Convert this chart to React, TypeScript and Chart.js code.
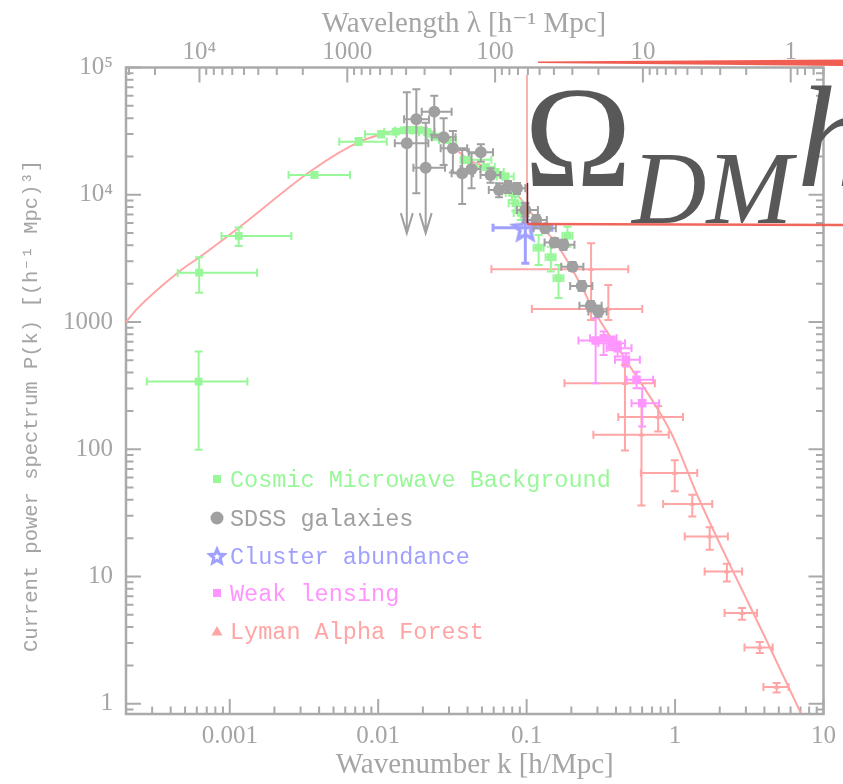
import React, { useEffect, useRef } from 'react';
import { Chart, registerables } from 'chart.js';

Chart.register(...registerables);

// Axis ranges: wavenumber k [h/Mpc] and power P(k) [(h^-1 Mpc)^3]
const K_RANGE = [2.0e-4, 10];
const P_RANGE = [0.83, 1e5];

const X_TICKS = [0.001, 0.01, 0.1, 1, 10];
const X_TICK_LABELS = ['0.001', '0.01', '0.1', '1', '10'];
const Y_TICKS = [1, 10, 100, 1000, 1e4, 1e5];
const Y_TICK_LABELS = ['1', '10', '100', '1000', '10⁴', '10⁵'];
const LAMBDA_TICKS = [1, 10, 100, 1000, 1e4];
const LAMBDA_TICK_LABELS = ['1', '10', '100', '1000', '10⁴'];

// Linear-theory model spectrum
const CURVE_K = [2.0e-4, 2.41e-4, 4.62e-4, 6.29e-4, 1.167e-3, 3.6e-3, 7.45e-3, 0.01186, 0.0165, 0.02, 0.0241, 0.03, 0.0408, 0.0649, 0.0925, 0.1204, 0.1566, 0.235, 0.2742, 0.484, 0.94, 1.427, 2.376, 4.02, 7.01];
const CURVE_P = [1000, 1291, 2518, 3245, 5585, 15660, 26000, 31100, 33900, 33600, 30300, 25300, 18800, 14800, 9100, 6000, 4200, 1900, 1320, 469, 134.6, 42.3, 11.9, 3.36, 0.85];

// Cosmic Microwave Background
const CMB_K = [6.17e-4, 6.22e-4, 1.149e-3, 3.72e-3, 7.38e-3, 0.01047, 0.01315, 0.01494, 0.01699, 0.01884, 0.02142, 0.02439, 0.02904, 0.03974, 0.0531, 0.0616, 0.0719, 0.0797, 0.084, 0.0912, 0.1204, 0.1456, 0.164, 0.1884];
const CMB_P = [340, 2440, 4745, 14300, 26100, 29900, 31300, 32000, 32300, 32000, 31000, 28600, 26900, 18800, 16500, 15100, 13900, 10330, 8580, 7190, 3840, 3230, 2210, 4770];
const CMB_K_LO = [2.76e-4, 4.46e-4, 8.8e-4, 2.49e-3, 5.47e-3, 8.14e-3, 0.01097, 0.013, 0.015, 0.01665, 0.01884, 0.02133, 0.02567, 0.03589, 0.04617, 0.0539, 0.0629, 0.0723, 0.0757, 0.0818, 0.1114, 0.1342, 0.1518, 0.1744];
const CMB_K_HI = [1.315e-3, 1.525e-3, 2.6e-3, 6.46e-3, 0.01143, 0.01315, 0.01566, 0.01718, 0.01914, 0.02133, 0.02414, 0.02773, 0.03337, 0.0579, 0.061, 0.0701, 0.0818, 0.0884, 0.0925, 0.1016, 0.13, 0.1566, 0.177, 0.2037];
const CMB_P_LO = [99, 1700, 3960, 13600, 24600, 28200, 30000, 30600, 30900, 30600, 29400, 27200, 25600, 17800, 15700, 14300, 13200, 9100, 7460, 6340, 2810, 2490, 1540, 3910];
const CMB_P_HI = [585, 3230, 5520, 15100, 27900, 31700, 32900, 33500, 33800, 33800, 32900, 30000, 28200, 19800, 17300, 15900, 14700, 11740, 9600, 8170, 4830, 3910, 2810, 5610];

// SDSS galaxies
const SDSS_K = [0.01559, 0.01807, 0.02089, 0.02387, 0.0276, 0.03186, 0.04914, 0.0368, 0.04254, 0.0571, 0.0652, 0.0749, 0.0861, 0.098, 0.1162, 0.1335, 0.1542, 0.177, 0.2037, 0.235, 0.2702, 0.3043];
const SDSS_P = [25400, 39200, 16300, 45000, 28300, 23200, 21600, 14760, 15960, 14300, 10910, 11590, 11250, 7600, 6340, 5460, 4210, 4040, 2720, 1920, 1340, 1210];
const SDSS_K_LO = [0.01294, 0.01494, 0.01726, 0.01965, 0.02293, 0.02635, 0.04083, 0.03124, 0.03589, 0.0489, 0.0556, 0.0626, 0.0757, 0.0861, 0.0954, 0.1114, 0.1321, 0.1479, 0.171, 0.1965, 0.2268, 0.2607];
const SDSS_K_HI = [0.02177, 0.02198, 0.02818, 0.03124, 0.03322, 0.03974, 0.0594, 0.04361, 0.0489, 0.0666, 0.0757, 0.0884, 0.098, 0.1191, 0.1368, 0.1573, 0.1818, 0.21, 0.2413, 0.2773, 0.3201, 0.3459];
const SDSS_P_LO = [4990, 10280, 4990, 29500, 17100, 14930, 18200, 8470, 11250, 12450, 9550, 10330, 10140, 6730, 5790, 5010, 3890, 3680, 2520, 1750, 1220, 1100];
const SDSS_P_HI = [63800, 67400, 36800, 60000, 39900, 31700, 24900, 22500, 21200, 16150, 12310, 12830, 12390, 8580, 6940, 5900, 4580, 4420, 2960, 2100, 1465, 1340];
// points whose lower bar ends in an upper-limit arrow
const SDSS_LIMITS = [0, 2];

// Cluster abundance
const CLUSTER_K = [0.098];
const CLUSTER_P = [5500];
const CLUSTER_K_LO = [0.0594];
const CLUSTER_K_HI = [0.1479];
const CLUSTER_P_LO = [2900];
const CLUSTER_P_HI = [8580];

// Weak lensing
const WL_K = [0.2917, 0.3302, 0.3737, 0.41, 0.4667, 0.5499, 0.6006];
const WL_P = [714, 746, 681, 622, 504, 351, 230];
const WL_K_LO = [0.2234, 0.2677, 0.3043, 0.3459, 0.3938, 0.4712, 0.509];
const WL_K_HI = [0.3837, 0.4037, 0.4596, 0.509, 0.5795, 0.7117, 0.781];
const WL_P_LO = [330, 551, 600, 535, 446, 302, 151];
const WL_P_HI = [1076, 841, 770, 702, 568, 407, 302];

// Lyman Alpha Forest
const LYA_K = [0.2718, 0.3551, 0.4596, 0.769, 0.594, 0.995, 1.306, 1.71, 2.234, 2.829, 3.72, 4.836];
const LYA_P = [2600, 1262, 330, 179, 130, 64.9, 37.1, 20.6, 10.94, 5.16, 2.77, 1.352];
const LYA_K_LO = [0.0579, 0.1085, 0.1799, 0.4144, 0.2816, 0.5884, 0.831, 1.162, 1.582, 2.156, 2.937, 3.938];
const LYA_K_HI = [0.4837, 0.6006, 0.731, 1.132, 0.907, 1.411, 1.78, 2.269, 2.829, 3.567, 4.548, 5.823];
const LYA_P_LO = [1038, 1038, 97.7, 138, 36.1, 46.7, 29.6, 16.2, 9.14, 4.57, 2.5, 1.227];
const LYA_P_HI = [4160, 1955, 460, 219, 244, 81.8, 43.8, 24.4, 12.6, 5.65, 3.05, 1.455];

const GREEN = 'rgb(152,247,152)';
const GREY = 'rgb(160,160,160)';
const BLUE = 'rgb(160,160,255)';
const PINK = 'rgb(255,150,255)';
const SALMON = 'rgb(255,165,165)';
const AXIS = 'rgb(170,170,170)';
const TEXT = 'rgb(165,165,165)';

const SERIF = '"Liberation Serif", "DejaVu Serif", serif';
const MONO = '"Liberation Mono", "DejaVu Sans Mono", monospace';

function starPath(ctx: CanvasRenderingContext2D, cx: number, cy: number, outer: number) {
  const inner = outer * 0.45;
  ctx.beginPath();
  for (let i = 0; i < 10; i++) {
    const r = i % 2 === 0 ? outer : inner;
    const a = -Math.PI / 2 + (i * Math.PI) / 5;
    const px = cx + r * Math.cos(a);
    const py = cy + r * Math.sin(a);
    if (i === 0) ctx.moveTo(px, py);
    else ctx.lineTo(px, py);
  }
  ctx.closePath();
}

function makeStar(outer: number, color: string, lineWidth: number) {
  const size = Math.ceil(outer * 2 + lineWidth * 2 + 4);
  const c = document.createElement('canvas');
  c.width = size;
  c.height = size;
  const ctx = c.getContext('2d')!;
  starPath(ctx, size / 2, size / 2 + outer * 0.1, outer);
  ctx.lineJoin = 'miter';
  ctx.strokeStyle = color;
  ctx.lineWidth = lineWidth;
  ctx.stroke();
  return c;
}

function series(k: number[], p: number[]) {
  return k.map((v, i) => ({ x: v, y: p[i] }));
}

// Error bars with end caps, drawn just below each dataset's markers
const errorBarPlugin = {
  id: 'errorBars',
  beforeDatasetDraw(chart: any, args: any) {
    const ds = chart.data.datasets[args.index];
    const eb = ds.errorBars;
    if (!eb) return;
    const { ctx, chartArea: a } = chart;
    const xs = chart.scales.x;
    const ys = chart.scales.y;
    ctx.save();
    ctx.beginPath();
    ctx.rect(a.left, a.top, a.right - a.left, a.bottom - a.top);
    ctx.clip();
    ctx.strokeStyle = ds.errorColor;
    ctx.lineWidth = ds.errorWidth;
    const c = ds.capSize;
    ds.data.forEach((pt: any, i: number) => {
      const px = xs.getPixelForValue(pt.x);
      const py = ys.getPixelForValue(pt.y);
      const x0 = xs.getPixelForValue(eb.kLo[i]);
      const x1 = xs.getPixelForValue(eb.kHi[i]);
      const y0 = ys.getPixelForValue(eb.pHi[i]);
      const y1 = ys.getPixelForValue(eb.pLo[i]);
      ctx.beginPath();
      ctx.moveTo(x0, py); ctx.lineTo(x1, py);
      ctx.moveTo(x0, py - c); ctx.lineTo(x0, py + c);
      ctx.moveTo(x1, py - c); ctx.lineTo(x1, py + c);
      ctx.moveTo(px, y0); ctx.lineTo(px, y1);
      ctx.moveTo(px - c, y0); ctx.lineTo(px + c, y0);
      const isLimit = eb.limits && eb.limits.includes(i);
      if (isLimit) {
        ctx.moveTo(px - 6, y1 - 20); ctx.lineTo(px, y1); ctx.lineTo(px + 6, y1 - 20);
      } else {
        ctx.moveTo(px - c, y1); ctx.lineTo(px + c, y1);
      }
      ctx.stroke();
    });
    ctx.restore();
  },
};

// Box frame with inward log tick marks on all four sides
const framePlugin = {
  id: 'frame',
  beforeDatasetsDraw(chart: any) {
    const { ctx, chartArea: a } = chart;
    const xs = chart.scales.x;
    const xt = chart.scales.xTop;
    const ys = chart.scales.y;
    const each = (min: number, max: number, cb: (v: number, major: boolean) => void) => {
      for (let e = Math.floor(Math.log10(min)); e <= Math.ceil(Math.log10(max)); e++) {
        for (let m = 1; m <= 9; m++) {
          const v = m * Math.pow(10, e);
          if (v >= min * 0.9999 && v <= max * 1.0001) cb(v, m === 1);
        }
      }
    };
    ctx.save();
    ctx.strokeStyle = AXIS;
    ctx.lineWidth = 2;
    ctx.beginPath();
    each(xs.min, xs.max, (v, major) => {
      const px = xs.getPixelForValue(v);
      ctx.moveTo(px, a.bottom); ctx.lineTo(px, a.bottom - (major ? 15 : 7.5));
    });
    each(xt.min, xt.max, (v, major) => {
      const px = xt.getPixelForValue(v);
      ctx.moveTo(px, a.top); ctx.lineTo(px, a.top + (major ? 15 : 7.5));
    });
    each(ys.min, ys.max, (v, major) => {
      const py = ys.getPixelForValue(v);
      const len = major ? 15 : 7.5;
      ctx.moveTo(a.left, py); ctx.lineTo(a.left + len, py);
      ctx.moveTo(a.right, py); ctx.lineTo(a.right - len, py);
    });
    ctx.stroke();
    ctx.lineWidth = 2.5;
    ctx.strokeRect(a.left, a.top, a.right - a.left, a.bottom - a.top);
    ctx.restore();
  },
};

// Axis titles and the in-plot legend
const labelsPlugin = {
  id: 'labels',
  afterDatasetsDraw(chart: any) {
    const { ctx, chartArea: a } = chart;
    ctx.save();
    ctx.fillStyle = TEXT;
    ctx.textAlign = 'center';
    ctx.textBaseline = 'alphabetic';
    ctx.font = `29px ${SERIF}`;
    ctx.fillText('Wavenumber k [h/Mpc]', (a.left + a.right) / 2, 773);
    ctx.fillText('Wavelength λ [h⁻¹ Mpc]', 464, 32);
    ctx.save();
    ctx.translate(37, 406);
    ctx.rotate(-Math.PI / 2);
    ctx.font = `20.5px ${MONO}`;
    ctx.fillText('Current power spectrum P(k) [(h⁻¹ Mpc)³]', 0, 0);
    ctx.restore();

    const rows = [479, 518, 556, 593, 631];
    const order = [1, 2, 3, 4, 5];
    ctx.textAlign = 'left';
    ctx.font = `23.5px ${MONO}`;
    order.forEach((di, r) => {
      const ds = chart.data.datasets[di];
      const y = rows[r];
      const mx = 217;
      ctx.fillStyle = ds.backgroundColor;
      ctx.strokeStyle = ds.errorColor;
      if (ds.legendMarker === 'rect') {
        ctx.fillRect(mx - 4, y - 4, 8, 8);
      } else if (ds.legendMarker === 'circle') {
        ctx.beginPath(); ctx.arc(mx, y, 6.5, 0, Math.PI * 2); ctx.fill();
      } else if (ds.legendMarker === 'star') {
        starPath(ctx, mx, y + 0.8, 7.5);
        ctx.lineWidth = 3; ctx.lineJoin = 'miter';
        ctx.stroke();
      } else if (ds.legendMarker === 'triangle') {
        ctx.beginPath();
        ctx.moveTo(mx, y - 5); ctx.lineTo(mx + 5.5, y + 4.5); ctx.lineTo(mx - 5.5, y + 4.5);
        ctx.closePath(); ctx.fill();
      }
      ctx.fillStyle = ds.errorColor;
      ctx.fillText(ds.label, 230, y + 7.5);
    });
    ctx.restore();
  },
};

// Annotation box with the Ω_DM h label, drawn over the upper-right corner
const omegaPlugin = {
  id: 'omega',
  afterDraw(chart: any) {
    const { ctx } = chart;
    ctx.save();
    ctx.fillStyle = 'rgb(88,88,88)';
    ctx.textBaseline = 'alphabetic';
    ctx.textAlign = 'left';
    ctx.font = `145px ${SERIF}`;
    ctx.fillText('Ω', 524, 186);
    ctx.font = `italic 103px ${SERIF}`;
    ctx.fillText('DM', 632, 223);
    ctx.font = `italic 145px ${SERIF}`;
    ctx.fillText('h', 797, 186);

    ctx.fillStyle = 'rgba(238,85,72,0.95)';
    ctx.beginPath();
    ctx.moveTo(538, 61.5); ctx.lineTo(843, 59.5); ctx.lineTo(843, 66); ctx.lineTo(538, 63);
    ctx.closePath(); ctx.fill();
    ctx.strokeStyle = 'rgba(238,85,72,0.9)';
    ctx.lineWidth = 1;
    ctx.beginPath(); ctx.moveTo(527, 75); ctx.lineTo(527, 224); ctx.stroke();
    ctx.lineWidth = 2.5;
    ctx.beginPath(); ctx.moveTo(527, 224); ctx.lineTo(843, 225); ctx.stroke();
    ctx.strokeStyle = 'rgba(70,25,25,0.85)';
    ctx.lineWidth = 1.5;
    ctx.beginPath(); ctx.moveTo(527.5, 183); ctx.lineTo(527.5, 223); ctx.stroke();
    ctx.restore();
  },
};

export default function App() {
  const ref = useRef<HTMLCanvasElement>(null);

  useEffect(() => {
    const canvas = ref.current;
    if (!canvas) return;
    const twoPi = 2 * Math.PI;
    const chart = new Chart(canvas, {
      type: 'scatter',
      data: {
        datasets: [
          {
            type: 'line',
            label: 'Model',
            data: series(CURVE_K, CURVE_P),
            borderColor: SALMON,
            borderWidth: 2,
            pointRadius: 0,
            cubicInterpolationMode: 'monotone',
            order: 6,
          },
          {
            label: 'Cosmic Microwave Background',
            data: series(CMB_K, CMB_P),
            backgroundColor: GREEN,
            borderWidth: 0,
            pointStyle: 'rect',
            pointRadius: 5.5,
            errorColor: GREEN,
            errorWidth: 2,
            capSize: 4,
            legendMarker: 'rect',
            errorBars: { kLo: CMB_K_LO, kHi: CMB_K_HI, pLo: CMB_P_LO, pHi: CMB_P_HI },
            order: 3,
          },
          {
            label: 'SDSS galaxies',
            data: series(SDSS_K, SDSS_P),
            backgroundColor: GREY,
            borderWidth: 0,
            pointStyle: 'circle',
            pointRadius: 6,
            errorColor: GREY,
            errorWidth: 2,
            capSize: 4,
            legendMarker: 'circle',
            errorBars: { kLo: SDSS_K_LO, kHi: SDSS_K_HI, pLo: SDSS_P_LO, pHi: SDSS_P_HI, limits: SDSS_LIMITS },
            order: 1,
          },
          {
            label: 'Cluster abundance',
            data: series(CLUSTER_K, CLUSTER_P),
            backgroundColor: BLUE,
            borderWidth: 0,
            pointStyle: makeStar(12.5, BLUE, 3.5),
            pointRadius: 12,
            errorColor: BLUE,
            errorWidth: 3,
            capSize: 4,
            legendMarker: 'star',
            errorBars: { kLo: CLUSTER_K_LO, kHi: CLUSTER_K_HI, pLo: CLUSTER_P_LO, pHi: CLUSTER_P_HI },
            order: 2,
          },
          {
            label: 'Weak lensing',
            data: series(WL_K, WL_P),
            backgroundColor: PINK,
            borderWidth: 0,
            pointStyle: 'rect',
            pointRadius: 6,
            errorColor: PINK,
            errorWidth: 2,
            capSize: 4,
            legendMarker: 'rect',
            errorBars: { kLo: WL_K_LO, kHi: WL_K_HI, pLo: WL_P_LO, pHi: WL_P_HI },
            order: 4,
          },
          {
            label: 'Lyman Alpha Forest',
            data: series(LYA_K, LYA_P),
            backgroundColor: SALMON,
            borderWidth: 0,
            pointStyle: 'triangle',
            pointRadius: 3.5,
            errorColor: SALMON,
            errorWidth: 2,
            capSize: 4,
            legendMarker: 'triangle',
            errorBars: { kLo: LYA_K_LO, kHi: LYA_K_HI, pLo: LYA_P_LO, pHi: LYA_P_HI },
            order: 5,
          },
        ] as any,
      },
      options: {
        animation: false,
        responsive: false,
        events: [],
        layout: { padding: { left: 0, right: 17, top: 0, bottom: 0 } },
        plugins: { legend: { display: false }, tooltip: { enabled: false } },
        scales: {
          x: {
            type: 'logarithmic',
            position: 'bottom',
            min: K_RANGE[0],
            max: K_RANGE[1],
            grid: { display: false, drawTicks: false },
            border: { display: false },
            afterBuildTicks: (s: any) => { s.ticks = X_TICKS.map((v) => ({ value: v })); },
            afterFit: (s: any) => { s.height = 70; },
            ticks: {
              autoSkip: false,
              maxRotation: 0,
              padding: 7,
              color: TEXT,
              font: { family: SERIF, size: 25 },
              callback: (_v: any, i: number) => X_TICK_LABELS[i],
            },
          },
          xTop: {
            type: 'logarithmic',
            position: 'top',
            reverse: true,
            min: twoPi / K_RANGE[1],
            max: twoPi / K_RANGE[0],
            grid: { display: false, drawTicks: false },
            border: { display: false },
            afterBuildTicks: (s: any) => { s.ticks = LAMBDA_TICKS.map((v) => ({ value: v })); },
            afterFit: (s: any) => { s.height = 67.5; },
            ticks: {
              autoSkip: false,
              maxRotation: 0,
              padding: 0,
              color: TEXT,
              font: { family: SERIF, size: 25 },
              callback: (_v: any, i: number) => LAMBDA_TICK_LABELS[i],
            },
          },
          y: {
            type: 'logarithmic',
            position: 'left',
            min: P_RANGE[0],
            max: P_RANGE[1],
            grid: { display: false, drawTicks: false },
            border: { display: false },
            afterBuildTicks: (s: any) => { s.ticks = Y_TICKS.map((v) => ({ value: v })); },
            afterFit: (s: any) => { s.width = 126; },
            ticks: {
              autoSkip: false,
              padding: 13,
              color: TEXT,
              font: { family: SERIF, size: 25 },
              callback: (_v: any, i: number) => Y_TICK_LABELS[i],
            },
          },
        },
      } as any,
      plugins: [framePlugin, errorBarPlugin, labelsPlugin, omegaPlugin],
    });
    return () => chart.destroy();
  }, []);

  return (
    <div style={{ position: 'absolute', left: 0, top: 0, width: 843, height: 784, background: '#fff' }}>
      <canvas ref={ref} width={843} height={784} style={{ display: 'block' }} />
    </div>
  );
}
